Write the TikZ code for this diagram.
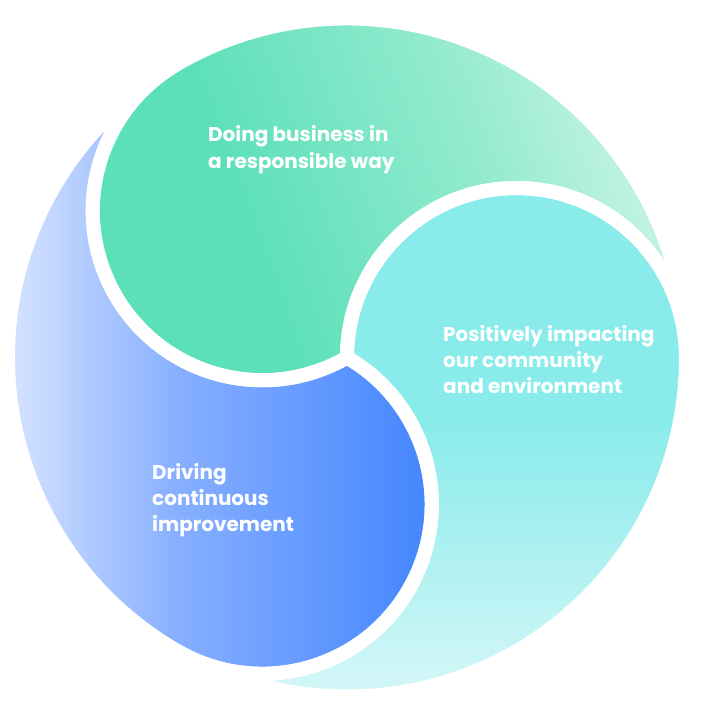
\documentclass[tikz,border=0pt]{standalone}
\usepackage{fontspec}
\newfontfamily\lblfont{Poppins Bold}
\usepackage{tikz}
\definecolor{gDark}{RGB}{92,224,185}
\definecolor{gMid}{RGB}{150,235,208}
\definecolor{gTip}{RGB}{222,248,239}
\definecolor{cHead}{RGB}{138,235,235}
\definecolor{cTip}{RGB}{214,247,248}
\definecolor{bDark}{RGB}{66,133,255}
\definecolor{bMid}{RGB}{135,175,255}
\definecolor{bLight}{RGB}{232,239,255}
\pgfdeclarehorizontalshading{grnShade}{100bp}{color(0bp)=(gDark); color(38bp)=(gDark); color(60bp)=(gMid); color(80bp)=(gTip); color(100bp)=(gTip)}
\pgfdeclareverticalshading{cynShade}{100bp}{color(0bp)=(cTip); color(25bp)=(cTip); color(52bp)=(cHead); color(100bp)=(cHead)}
\pgfdeclarehorizontalshading{bluShade}{100bp}{color(0bp)=(bLight); color(26bp)=(bLight); color(47bp)=(bMid); color(73bp)=(bDark); color(100bp)=(bDark)}
% one swirl: outer arc, then the next head, then its own head
\newcommand\lobe[1]{(#1:\R) arc[start angle=#1,end angle=#1-120,radius=\R]
  arc[start angle=#1-120,end angle=#1+60,radius=\Rh]
  arc[start angle=#1+180,end angle=#1,radius=\Rh] -- cycle}

\begin{document}
\begin{tikzpicture}[x=1pt,y=1pt,
  lbl/.style={text=white,font=\lblfont\fontsize{20}{26.2}\selectfont,align=left,inner sep=0pt,anchor=base west},
  gap/.style={draw=white,line width=14pt,line join=round}]
\def\R{339}\def\Rh{169.5}
\useasboundingbox (-347,-349.5) rectangle (355,357.5);
\shade[shading=grnShade,shading angle=20] \lobe{120};
\shade[shading=cynShade] \lobe{0};
\shade[shading=bluShade] \lobe{240};
\foreach \a in {120,0,240} \draw[gap] \lobe{\a};
% base anchor sits on the last line
\node[lbl] (resp) at (-139,189.3) {Doing business in\\a responsible way};
\node[lbl] (comm) at (96,-35.9) {Positively impacting\\our community\\and environment};
\node[lbl] (impr) at (-195,-173.9) {Driving\\continuous\\improvement};
\end{tikzpicture}
\end{document}
